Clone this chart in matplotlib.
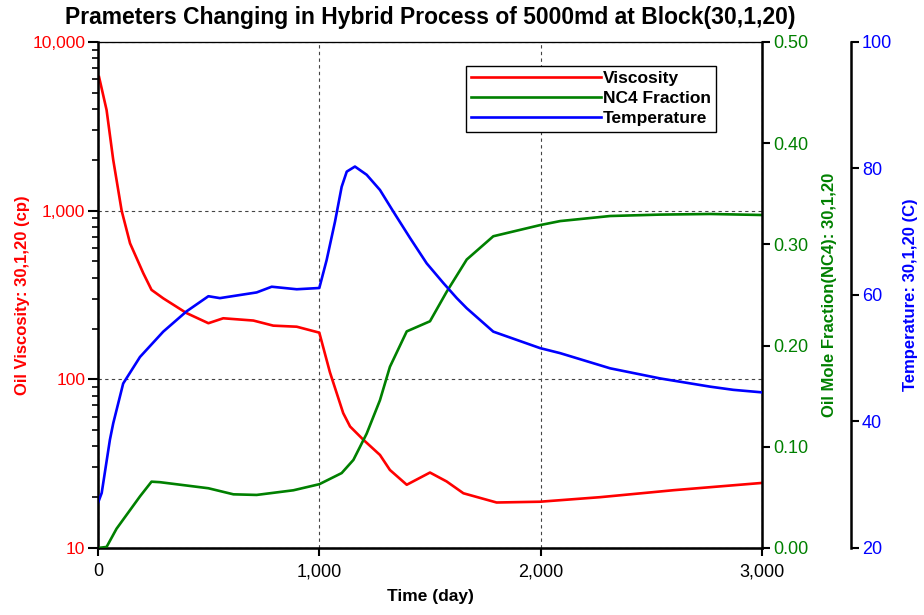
import numpy as np
import matplotlib.pyplot as plt
from matplotlib.ticker import FuncFormatter, LogLocator, FixedLocator
from matplotlib.lines import Line2D

plt.rcParams['font.family'] = ['Liberation Sans', 'DejaVu Sans']

# Viskositet (cp)
t_visc = [5, 39, 69, 107, 145, 205, 242, 295, 400, 499, 566, 702, 792, 898,
          1000, 1048, 1108, 1139, 1199, 1274, 1319, 1395, 1500, 1575, 1651,
          1801, 1997, 2268, 2600, 3000]
visc = [6200, 3950, 2000, 1000, 640, 425, 339, 302, 247, 215, 230, 223,
        208, 205, 189, 110, 63, 52.5, 43.8, 35.6, 29, 23.7, 28, 24.8, 21.1,
        18.6, 18.8, 20, 22, 24.3]

# NC4 fraksjon
t_nc4 = [0, 39, 84, 190, 242, 280, 499, 612, 717, 883, 1000, 1101, 1154, 1214,
         1274, 1319, 1395, 1500, 1575, 1666, 1786, 1997, 2088, 2314, 2540,
         2766, 3000]
nc4 = [0.0, 0.001, 0.019, 0.051, 0.0655, 0.065, 0.059, 0.053, 0.0524, 0.057,
       0.063, 0.074, 0.087, 0.113, 0.146, 0.179, 0.214, 0.224, 0.253, 0.285,
       0.308, 0.319, 0.323, 0.328, 0.3294, 0.330, 0.329]

# Temperatur (C)
t_temp = [0, 17, 54, 69, 114, 190, 295, 400, 499, 551, 717, 785, 898, 1000,
          1033, 1071, 1101, 1124, 1161, 1214, 1274, 1334, 1410, 1485, 1560,
          1621, 1666, 1786, 1997, 2088, 2314, 2540, 2766, 2870, 3000]
temp = [27.1, 28.7, 37.1, 39.7, 46.0, 50.2, 54.2, 57.4, 59.8, 59.5, 60.4, 61.3,
        60.9, 61.1, 65.5, 71.6, 77.1, 79.5, 80.3, 79.0, 76.6, 73.2, 69.0, 65.0,
        61.9, 59.5, 57.9, 54.2, 51.6, 50.8, 48.4, 46.8, 45.5, 45.0, 44.6]

red = '#ff0000'
green = '#008000'
blue = '#0000ff'

fig = plt.figure(figsize=(9.24, 6.15), dpi=100)
ax = fig.add_axes([0.106, 0.109, 0.7187, 0.8228])
ax2 = ax.twinx()
ax3 = ax.twinx()
ax3.spines['right'].set_position(('axes', 1.134))

ax.semilogy(t_visc, visc, color=red, lw=1.9)
ax2.plot(t_nc4, nc4, color=green, lw=1.9)
ax3.plot(t_temp, temp, color=blue, lw=1.9)

ax.set_xlim(0, 3000)
ax.set_ylim(10, 10000)
ax2.set_ylim(0, 0.5)
ax3.set_ylim(20, 100)

comma = FuncFormatter(lambda v, p: f'{v:,.0f}')
ax.xaxis.set_major_locator(FixedLocator([0, 1000, 2000, 3000]))
ax.xaxis.set_major_formatter(comma)
ax.yaxis.set_major_locator(LogLocator(base=10))
ax.yaxis.set_minor_locator(LogLocator(base=10, subs=np.arange(2, 10)))
ax.yaxis.set_major_formatter(comma)
ax.yaxis.set_minor_formatter(FuncFormatter(lambda v, p: ''))
ax2.yaxis.set_major_locator(FixedLocator([0, 0.1, 0.2, 0.3, 0.4, 0.5]))
ax2.yaxis.set_major_formatter(FuncFormatter(lambda v, p: f'{v:.2f}'))
ax3.yaxis.set_major_locator(FixedLocator([20, 40, 60, 80, 100]))

ax.grid(True, which='major', ls=(0, (3, 3)), color='#444444', lw=0.8)

for a in (ax, ax2, ax3):
    for s in a.spines.values():
        s.set_linewidth(0.8)
ax.spines['left'].set_linewidth(1.8)
ax.spines['bottom'].set_linewidth(1.8)
ax2.spines['right'].set_linewidth(1.8)
ax3.spines['right'].set_linewidth(1.8)

ax.tick_params(axis='x', labelsize=13, length=6, width=1.5, pad=5)
ax.tick_params(axis='y', which='major', labelsize=12.5, length=7, width=1.5,
               labelcolor=red, pad=2)
ax.tick_params(axis='y', which='minor', length=4, width=1.2)
ax2.tick_params(axis='y', labelsize=13, length=6, width=1.5, labelcolor=green, pad=2)
ax3.tick_params(axis='y', labelsize=13, length=6, width=1.5, labelcolor=blue, pad=2)

ax.set_xlabel('Time (day)', fontsize=12.5, fontweight='bold', labelpad=6)
ax.set_ylabel('Oil Viscosity: 30,1,20 (cp)', fontsize=12, fontweight='bold',
              color=red, labelpad=2)
ax2.set_ylabel('Oil Mole Fraction(NC4): 30,1,20', fontsize=12, fontweight='bold',
               color=green, labelpad=10)
ax3.set_ylabel('Temperature: 30,1,20 (C)', fontsize=12, fontweight='bold',
               color=blue, labelpad=8)

ax.set_title('Prameters Changing in Hybrid Process of 5000md at Block(30,1,20)',
             fontsize=16.5, fontweight='bold', pad=13)

handles = [Line2D([], [], color=red, lw=1.9),
           Line2D([], [], color=green, lw=1.9),
           Line2D([], [], color=blue, lw=1.9)]
leg = ax3.legend(handles, ['Viscosity', 'NC4 Fraction', 'Temperature'],
                 loc='upper left', bbox_to_anchor=(0.554, 0.9526),
                 borderaxespad=0, prop={'weight': 'bold', 'size': 12.5},
                 handlelength=7.5, handletextpad=0.1, borderpad=0.3,
                 labelspacing=0.28, fancybox=False, shadow=False,
                 framealpha=1, edgecolor='black')
leg.get_frame().set_linewidth(1.0)

fig.savefig('out.png', dpi=100)
